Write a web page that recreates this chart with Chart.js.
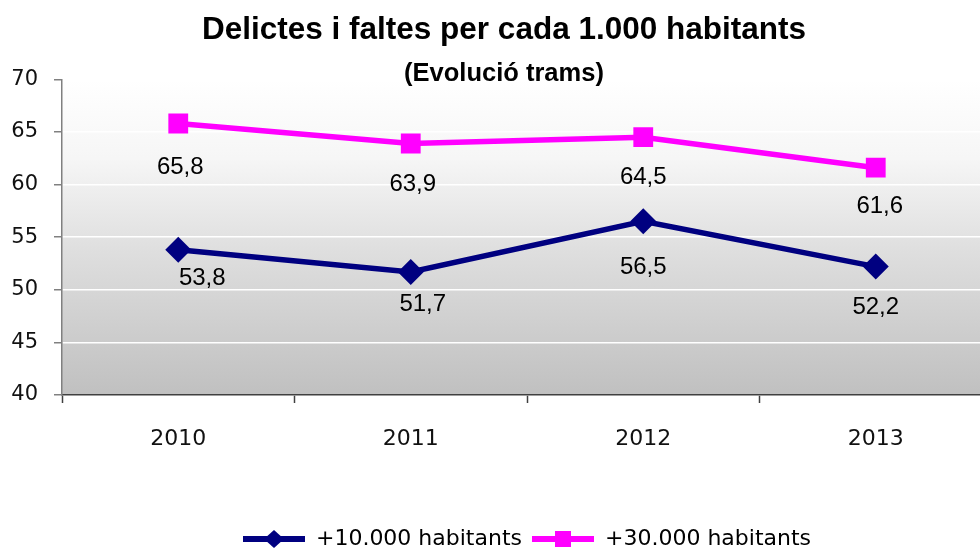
<!DOCTYPE html>
<html>
<head>
<meta charset="utf-8">
<script src="https://cdn.jsdelivr.net/npm/chart.js@4"></script>
<style>
  html, body { margin: 0; padding: 0; background: #fff; overflow: hidden; }
  canvas { display: block; }
</style>
</head>
<body>
<canvas id="chart" width="1008" height="560"></canvas>
<script>
const years = ['2010', '2011', '2012', '2013']
const over10k = [53.8, 51.7, 56.5, 52.2]
const over30k = [65.8, 63.9, 64.5, 61.6]
const seriesNames = ['+10.000 habitants', '+30.000 habitants']

const navy = '#000080'
const pink = '#ff00ff'

// label nudges (dx, dy) from each point, as placed in the original
const labelNudge = [
  [[24, 29], [12, 32], [0, 46], [0, 41]],
  [[2, 44], [2, 41], [0, 40], [4, 39]]
]

function legendIcon(color, shape) {
  const c = document.createElement('canvas')
  c.width = 62
  c.height = 24
  const ctx = c.getContext('2d')
  ctx.strokeStyle = color
  ctx.fillStyle = color
  ctx.lineWidth = 6
  ctx.beginPath()
  ctx.moveTo(0, 12)
  ctx.lineTo(62, 12)
  ctx.stroke()
  ctx.beginPath()
  if (shape === 'diamond') {
    ctx.moveTo(31, 3); ctx.lineTo(41, 12); ctx.lineTo(31, 21); ctx.lineTo(21, 12)
  } else {
    ctx.rect(23, 4, 16, 16)
  }
  ctx.fill()
  return c
}
const icons = [legendIcon(navy, 'diamond'), legendIcon(pink, 'square')]

const plotBackground = {
  id: 'plotBackground',
  afterLayout(chart) {
    // let the y labels use the left padding strip (it only exists to centre the title)
    chart.scales.y.left = 0
  },
  beforeDraw(chart) {
    const { ctx, chartArea: a } = chart
    const g = ctx.createLinearGradient(0, a.top, 0, a.bottom)
    g.addColorStop(0, '#ffffff')
    g.addColorStop(0.25, '#f6f6f6')
    g.addColorStop(0.55, '#dedede')
    g.addColorStop(1, '#c0c0c0')
    ctx.save()
    ctx.fillStyle = g
    ctx.fillRect(a.left, a.top, a.right - a.left, a.bottom - a.top)
    ctx.restore()
  }
}

const valueLabels = {
  id: 'valueLabels',
  afterDatasetsDraw(chart) {
    const ctx = chart.ctx
    ctx.save()
    ctx.font = '24px "Liberation Sans", Arial, sans-serif'
    ctx.fillStyle = '#000'
    ctx.textAlign = 'center'
    ctx.textBaseline = 'middle'
    chart.data.datasets.forEach((ds, di) => {
      chart.getDatasetMeta(di).data.forEach((pt, i) => {
        const [dx, dy] = labelNudge[di][i]
        ctx.fillText(ds.data[i].toFixed(1).replace('.', ','), pt.x + dx, pt.y + dy)
      })
    })
    ctx.restore()
  }
}

new Chart(document.getElementById('chart'), {
  type: 'line',
  data: {
    labels: years,
    datasets: [
      {
        label: seriesNames[0],
        data: over10k,
        borderColor: navy,
        backgroundColor: navy,
        borderWidth: 5.5,
        pointStyle: 'rectRot',
        pointRadius: 13,
        pointBorderWidth: 0,
        tension: 0,
        fill: false
      },
      {
        label: seriesNames[1],
        data: over30k,
        borderColor: pink,
        backgroundColor: pink,
        borderWidth: 5.5,
        pointStyle: 'rect',
        pointRadius: 14,
        pointBorderWidth: 0,
        tension: 0,
        fill: false
      }
    ]
  },
  options: {
    responsive: false,
    animation: false,
    devicePixelRatio: 1,
    layout: { padding: { left: 16, right: 16, top: 0, bottom: 0 } },
    plugins: {
      title: {
        display: true,
        text: 'Delictes i faltes per cada 1.000 habitants',
        color: '#000',
        font: { family: '"Liberation Sans", Arial, sans-serif', size: 31.5, weight: 'bold', lineHeight: 1.2 },
        padding: { top: 11, bottom: 0 }
      },
      subtitle: {
        display: true,
        text: '(Evolució trams)',
        color: '#000',
        font: { family: '"Liberation Sans", Arial, sans-serif', size: 25.5, weight: 'bold', lineHeight: 1 },
        padding: { top: 12, bottom: -7 }
      },
      legend: {
        position: 'bottom',
        fullSize: false,
        labels: {
          color: '#000',
          font: { family: '"DejaVu Sans", Verdana, sans-serif', size: 22 },
          usePointStyle: true,
          pointStyleWidth: 62,
          padding: 10,
          generateLabels: (chart) => chart.data.datasets.map((ds, i) => ({
            text: ds.label,
            pointStyle: icons[i],
            fillStyle: ds.borderColor,
            strokeStyle: ds.borderColor,
            lineWidth: 0,
            datasetIndex: i
          }))
        }
      },
      tooltip: { enabled: false }
    },
    scales: {
      x: {
        offset: true,
        afterFit: (scale) => { scale.height = 123 },
        border: { color: '#404040', width: 1.5 },
        grid: { offset: true, drawOnChartArea: false, drawTicks: true, tickLength: 8, tickColor: '#404040', tickWidth: 1.5 },
        ticks: {
          color: '#111',
          padding: 23,
          font: { family: '"DejaVu Sans", Verdana, sans-serif', size: 22 }
        }
      },
      y: {
        min: 40,
        max: 70,
        afterFit: (scale) => { scale.width = 46 },
        border: { color: '#808080', width: 1.5 },
        grid: { color: '#ffffff', lineWidth: 1.5, tickLength: 8, tickColor: '#808080', tickWidth: 1.5 },
        ticks: {
          stepSize: 5,
          color: '#111',
          padding: 16,
          font: { family: '"DejaVu Sans", Verdana, sans-serif', size: 21 }
        }
      }
    }
  },
  plugins: [plotBackground, valueLabels]
})
</script>
</body>
</html>
